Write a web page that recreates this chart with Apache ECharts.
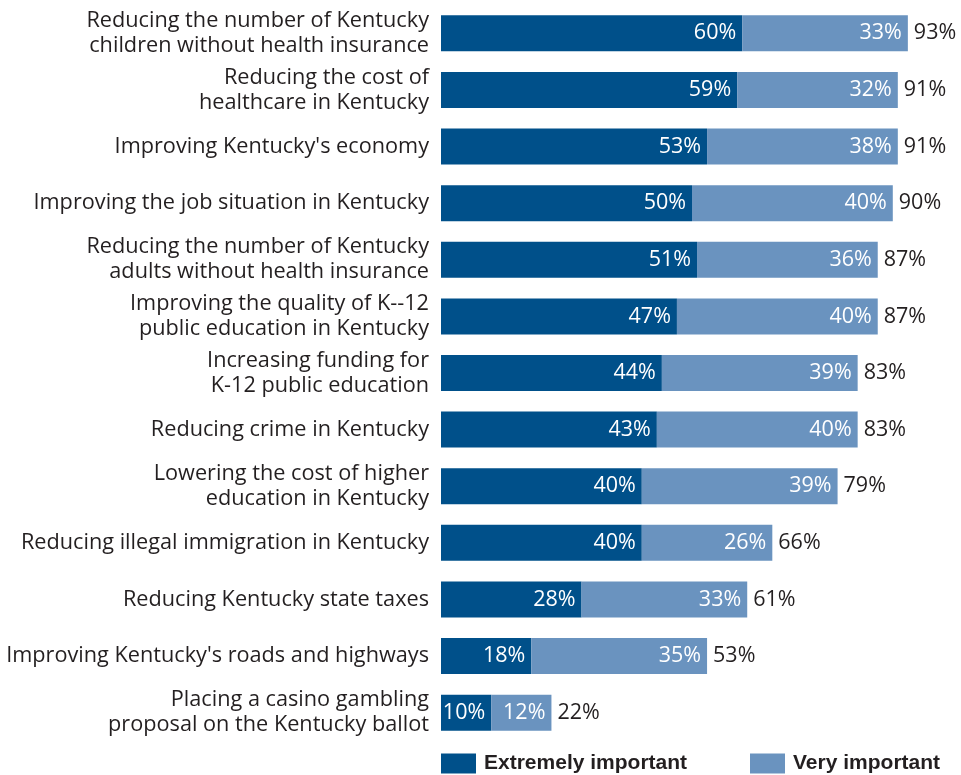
<!DOCTYPE html>
<html>
<head>
<meta charset="utf-8">
<script src="https://cdn.jsdelivr.net/npm/echarts@6/dist/echarts.min.js"></script>
<style>html,body{margin:0;padding:0;background:#fff}#c{width:961px;height:775px}</style>
</head>
<body>
<div id="c"></div>
<script>
const categories = [
  "Reducing the number of Kentucky\nchildren without health insurance",
  "Reducing the cost of\nhealthcare in Kentucky",
  "Improving Kentucky's economy",
  "Improving the job situation in Kentucky",
  "Reducing the number of Kentucky\nadults without health insurance",
  "Improving the quality of K--12\npublic education in Kentucky",
  "Increasing funding for\nK-12 public education",
  "Reducing crime in Kentucky",
  "Lowering the cost of higher\neducation in Kentucky",
  "Reducing illegal immigration in Kentucky",
  "Reducing Kentucky state taxes",
  "Improving Kentucky's roads and highways",
  "Placing a casino gambling\nproposal on the Kentucky ballot"
];
const extremely = [60, 59, 53, 50, 51, 47, 44, 43, 40, 40, 28, 18, 10];
const very = [33, 32, 38, 40, 36, 40, 39, 40, 39, 26, 33, 35, 12];
const totals = [93, 91, 91, 90, 87, 87, 83, 83, 79, 66, 61, 53, 22];

const FONT = "'Open Sans', 'Noto Sans', sans-serif";
const LEGFONT = "'Liberation Sans Narrow', 'Liberation Sans', sans-serif";
const chart = echarts.init(document.getElementById('c'));
const inLabel = {
  show: true, position: 'insideRight', color: '#fff', fontSize: 21.5,
  fontFamily: FONT, distance: 6, formatter: p => p.value + '%'
};
const legText = { fontSize: 21, fontWeight: 'bold', color: '#231f20', fontFamily: LEGFONT, padding: [0, 0, 0, 3] };
chart.setOption({
  animation: false,
  textStyle: { fontFamily: FONT },
  grid: { left: 441, right: 18, top: 5, bottom: 34 },
  xAxis: { type: 'value', min: 0, max: 100, show: false },
  yAxis: {
    type: 'category', data: categories, inverse: true,
    axisLine: { show: false }, axisTick: { show: false },
    axisLabel: { color: '#231f20', fontSize: 21.7, lineHeight: 25, margin: 12, fontFamily: FONT, align: 'right' }
  },
  legend: [
    { data: ['Extremely important'], left: 441, top: 753, padding: 0, itemWidth: 35, itemHeight: 20, itemGap: 8,
      textStyle: legText, icon: 'rect' },
    { data: ['Very important'], left: 750, top: 753, padding: 0, itemWidth: 35, itemHeight: 20, itemGap: 8,
      textStyle: legText, icon: 'rect' }
  ],
  series: [
    { name: 'Extremely important', type: 'bar', stack: 't', data: extremely, barWidth: 36,
      itemStyle: { color: '#00508a' }, label: inLabel },
    { name: 'Very important', type: 'bar', stack: 't', data: very, barWidth: 36,
      itemStyle: { color: '#6a93bf' }, label: inLabel },
    { name: 'Total', type: 'bar', stack: 't', data: totals.map(() => 0), barWidth: 36,
      itemStyle: { color: 'transparent' }, silent: true,
      label: { show: true, position: 'right', distance: 6, color: '#231f20', fontSize: 21.5, fontFamily: FONT,
        formatter: p => totals[p.dataIndex] + '%' } }
  ]
});
</script>
</body>
</html>
